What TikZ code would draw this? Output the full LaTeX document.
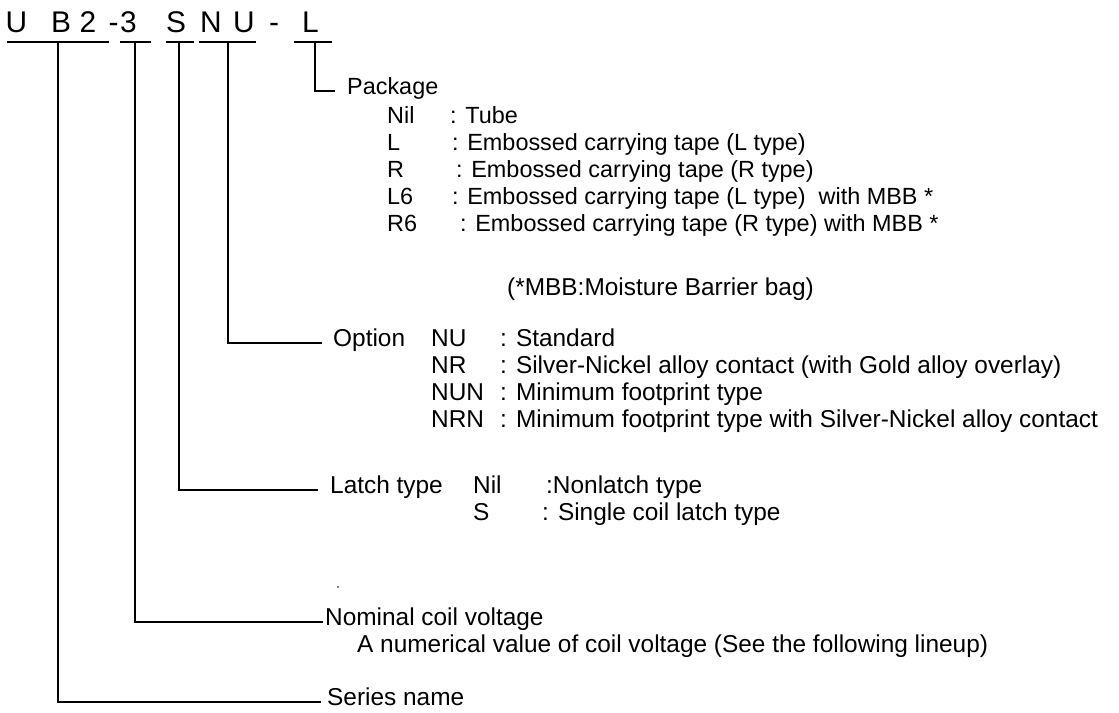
\documentclass[tikz,border=0pt]{standalone}
\usepackage{fontspec}
\setmainfont{Liberation Sans}
\usetikzlibrary{positioning}

\tikzset{
  lead/.style={line width=1.2bp, black},
  hdr/.style={anchor=base, inner sep=0, font=\fontsize{30}{34}\selectfont},
  pkgtxt/.style={anchor=west, inner sep=0, text height=0.72em, text depth=0pt,
    font=\fontsize{23.5}{26}\selectfont},
  lbltxt/.style={anchor=west, inner sep=0, text height=0.72em, text depth=0pt,
    font=\fontsize{24.5}{27}\selectfont},
}

\begin{document}
\begin{tikzpicture}[x=1bp, y=-1bp]
    \useasboundingbox (0,0) rectangle (1119,713);

    % draw part number
    \node[hdr] (hU)  at (16.5,33)  {U};
    \node[hdr] (hB)  at (61,33)    {B};
    \node[hdr] (hTwo) at (88,33)   {2};
    \node[hdr] (hDa) at (113.5,33) {-};
    \node[hdr] (hThree) at (128.5,33) {3};
    \node[hdr] (hS)  at (176,33)   {S};
    \node[hdr] (hN)  at (211,33)   {N};
    \node[hdr] (hUb) at (244,33)   {U};
    \node[hdr] (hDb) at (274,33)   {-};
    \node[hdr] (hL)  at (310.5,33) {L};

    % draw underlines
    \draw[lead] (7,42) -- (109,42);
    \draw[lead] (120,42) -- (151,42);
    \draw[lead] (166,42) -- (194,42);
    \draw[lead] (199,42) -- (256,42);
    \draw[lead] (294,42) -- (332,42);

    % top ends of the leads
    \coordinate (tSeries) at (58,42);
    \coordinate (tVolt)   at (135,42);
    \coordinate (tLatch)  at (179,42);
    \coordinate (tOpt)    at (228,42);
    \coordinate (tPkg)    at (315,42);

    % package
    \node[pkgtxt] (pkg) at (347,91) {Package};
    \node[pkgtxt] (kNil) at (387,120) {Nil};
    \node[pkgtxt] (dNil) at (450,120) {: Tube};
    \node[pkgtxt] (kL)   at (387,147) {L};
    \node[pkgtxt] (dL)   at (452,147) {: Embossed carrying tape (L type)};
    \node[pkgtxt] (kR)   at (387,174) {R};
    \node[pkgtxt] (dR)   at (456,174) {: Embossed carrying tape (R type)};
    \node[pkgtxt] (kLs)  at (387,201) {L6};
    \node[pkgtxt] (dLs)  at (452,201) {: Embossed carrying tape (L type)\ \ with MBB *};
    \node[pkgtxt] (kRs)  at (387,228) {R6};
    \node[pkgtxt] (dRs)  at (460,228) {: Embossed carrying tape (R type) with MBB *};
    \node[lbltxt] (mbb)  at (507,292) {(*MBB:Moisture Barrier bag)};

    % option
    \node[lbltxt] (opt)  at (333,343) {Option};
    \node[lbltxt] (kNU)  at (431,343) {NU};
    \node[lbltxt] (dNU)  at (500,343) {: Standard};
    \node[lbltxt] (kNR)  at (431,370) {NR};
    \node[lbltxt] (dNR)  at (500,370) {: Silver-Nickel alloy contact (with Gold alloy overlay)};
    \node[lbltxt] (kNUN) at (431,397) {NUN};
    \node[lbltxt] (dNUN) at (500,397) {: Minimum footprint type};
    \node[lbltxt] (kNRN) at (431,424) {NRN};
    \node[lbltxt] (dNRN) at (500,424) {: Minimum footprint type with Silver-Nickel alloy contact};

    % latch type
    \node[lbltxt] (latch) at (330,490) {Latch type};
    \node[lbltxt] (kLNil) at (473,490) {Nil};
    \node[lbltxt] (dLNil) at (546,490) {:Nonlatch type};
    \node[lbltxt] (kLS)   at (473,517) {S};
    \node[lbltxt] (dLS)   at (542,517) {: Single coil latch type};
    \fill (338,587) circle (0.9bp);

    % coil voltage and series
    \node[lbltxt] (volt) at (325,622) {Nominal coil voltage};
    \node[lbltxt] (voltd) at (357,649) {A numerical value of coil voltage (See the following lineup)};
    \node[lbltxt] (series) at (327,702) {Series name};

    % draw leads
    \draw[lead] (tPkg) |- ([xshift=-12bp]pkg.west);
    \draw[lead] (tOpt) |- ([xshift=-11bp]opt.west);
    \draw[lead] (tLatch) |- ([xshift=-12bp]latch.west);
    \draw[lead] (tVolt) |- ([xshift=-2bp]volt.west);
    \draw[lead] (tSeries) |- ([xshift=-6bp]series.west);
\end{tikzpicture}
\end{document}
